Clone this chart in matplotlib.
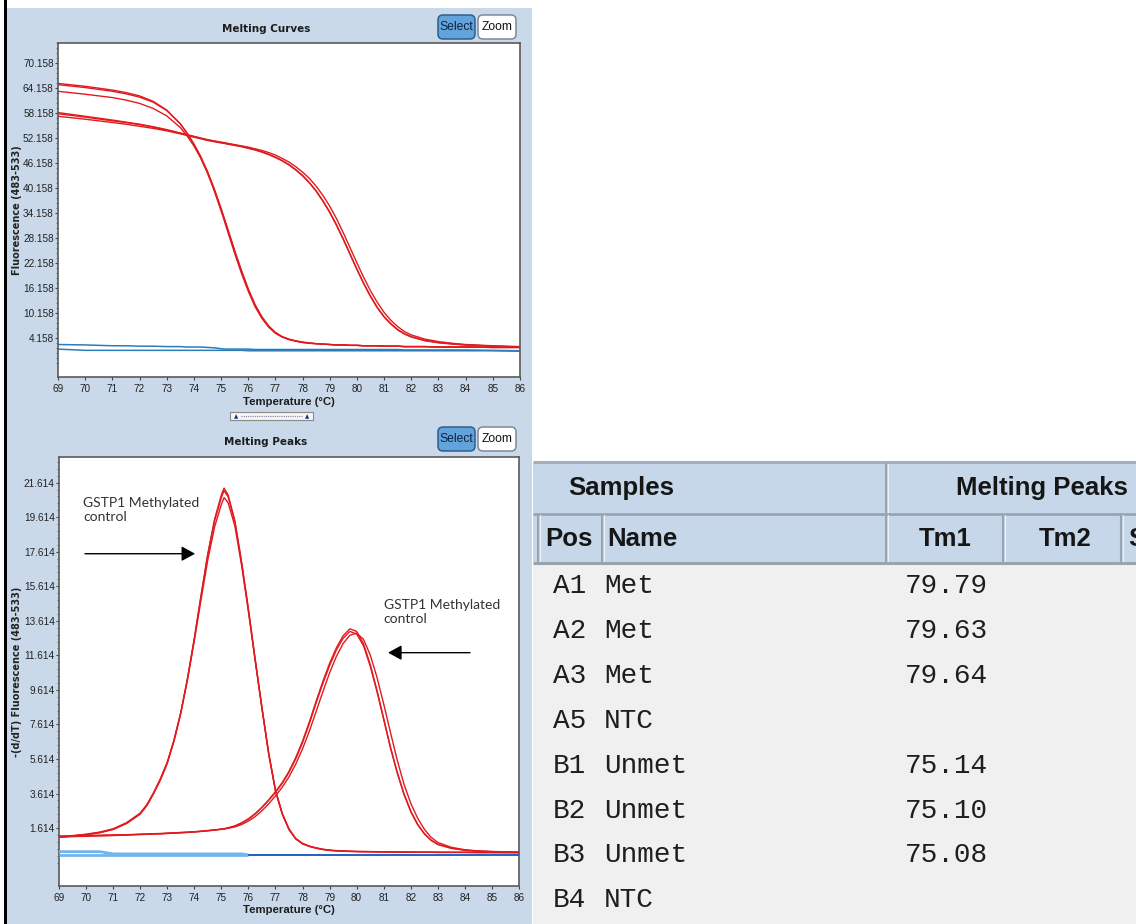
import matplotlib
matplotlib.use('Agg')
import matplotlib.pyplot as plt
from matplotlib.patches import Rectangle, FancyBboxPatch
from matplotlib.ticker import FixedLocator
from matplotlib import font_manager

# ---------------- data ----------------
# Melting curves: temperature grid and fluorescence (483-533)
curve_temps = [69, 70, 71, 71.5, 72, 72.5, 73, 73.5, 73.75, 74, 74.25, 74.5, 74.75, 75, 75.1,
               75.25, 75.5, 75.75, 76, 76.25, 76.5, 76.75, 77, 77.25, 77.5, 77.75, 78, 78.25,
               78.5, 78.75, 79, 79.25, 79.5, 79.75, 80, 80.25, 80.5, 80.75, 81, 81.25, 81.5,
               81.75, 82, 82.5, 83, 83.5, 84, 85, 86]

melt_A1 = [58.3, 57.4, 56.5, 56.0, 55.5, 54.9, 54.2, 53.4, 53.0, 52.6, 52.2, 51.8, 51.5, 51.2,
           51.1, 50.9, 50.6, 50.3, 50.0, 49.6, 49.2, 48.7, 48.1, 47.3, 46.4, 45.3, 44.0, 42.5,
           40.6, 38.4, 35.8, 32.8, 29.4, 25.8, 22.2, 18.7, 15.5, 12.7, 10.3, 8.4, 6.9, 5.7,
           4.9, 3.9, 3.3, 2.9, 2.6, 2.3, 2.1]
melt_A2 = [58.0, 57.2, 56.3, 55.9, 55.4, 54.8, 54.1, 53.3, 52.9, 52.5, 52.1, 51.7, 51.4, 51.1,
           51.0, 50.8, 50.5, 50.2, 49.8, 49.4, 48.9, 48.3, 47.6, 46.8, 45.8, 44.6, 43.2, 41.5,
           39.5, 37.1, 34.4, 31.3, 27.9, 24.3, 20.7, 17.3, 14.2, 11.5, 9.3, 7.6, 6.2, 5.2,
           4.5, 3.6, 3.1, 2.8, 2.5, 2.2, 2.0]
melt_A3 = [57.4, 56.7, 55.9, 55.5, 55.0, 54.5, 53.9, 53.2, 52.8, 52.4, 52.0, 51.6, 51.3, 51.0,
           50.9, 50.7, 50.4, 50.1, 49.7, 49.3, 48.8, 48.2, 47.5, 46.7, 45.7, 44.5, 43.1, 41.4,
           39.4, 37.0, 34.3, 31.2, 27.8, 24.2, 20.6, 17.2, 14.1, 11.4, 9.2, 7.5, 6.1, 5.1,
           4.4, 3.5, 3.0, 2.7, 2.5, 2.2, 2.0]
melt_B1 = [65.3, 64.6, 63.7, 63.1, 62.3, 61.0, 58.9, 55.6, 53.3, 50.6, 47.5, 43.8, 39.5, 34.7,
           32.7, 29.6, 24.5, 19.7, 15.4, 11.7, 8.9, 6.8, 5.3, 4.4, 3.8, 3.4, 3.1, 2.9,
           2.8, 2.7, 2.6, 2.5, 2.5, 2.4, 2.4, 2.3, 2.3, 2.3, 2.2, 2.2, 2.2, 2.1,
           2.1, 2.1, 2.0, 2.0, 2.0, 1.9, 1.9]
melt_B2 = [65.0, 64.3, 63.4, 62.8, 62.0, 60.8, 58.8, 55.6, 53.4, 50.8, 47.8, 44.2, 40.0, 35.3,
           33.3, 30.3, 25.2, 20.4, 16.0, 12.2, 9.3, 7.1, 5.5, 4.5, 3.9, 3.5, 3.2, 3.0,
           2.8, 2.7, 2.6, 2.5, 2.5, 2.4, 2.4, 2.3, 2.3, 2.3, 2.2, 2.2, 2.2, 2.1,
           2.1, 2.1, 2.0, 2.0, 2.0, 1.9, 1.9]
melt_B3 = [63.4, 62.7, 61.9, 61.3, 60.5, 59.3, 57.5, 54.7, 52.7, 50.3, 47.4, 43.9, 39.8, 35.1,
           33.1, 30.1, 25.0, 20.2, 15.8, 12.0, 9.1, 6.9, 5.4, 4.4, 3.8, 3.4, 3.1, 2.9,
           2.8, 2.7, 2.6, 2.5, 2.5, 2.4, 2.4, 2.3, 2.3, 2.3, 2.2, 2.2, 2.2, 2.1,
           2.1, 2.1, 2.0, 2.0, 2.0, 1.9, 1.9]
melt_A5 = [2.6, 2.5, 2.3, 2.3, 2.2, 2.2, 2.1, 2.1, 2.0, 2.0, 2.0, 1.9, 1.8, 1.6,
           1.5, 1.5, 1.5, 1.5, 1.5, 1.4, 1.4, 1.4, 1.4, 1.4, 1.4, 1.4, 1.4, 1.4,
           1.4, 1.4, 1.4, 1.4, 1.4, 1.4, 1.4, 1.4, 1.4, 1.4, 1.4, 1.4, 1.4, 1.3,
           1.3, 1.3, 1.3, 1.3, 1.3, 1.2, 1.1]
melt_B4 = [1.5, 1.2, 1.2, 1.2, 1.2, 1.2, 1.2, 1.2, 1.2, 1.2, 1.2, 1.2, 1.2, 1.2,
           1.2, 1.2, 1.2, 1.2, 1.1, 1.1, 1.1, 1.1, 1.1, 1.1, 1.1, 1.1, 1.1, 1.1,
           1.1, 1.1, 1.1, 1.1, 1.1, 1.1, 1.1, 1.1, 1.1, 1.1, 1.1, 1.1, 1.1, 1.1,
           1.1, 1.1, 1.1, 1.1, 1.1, 1.1, 1.0]

# Melting peaks: temperature grid and -(d/dT) fluorescence (483-533)
peak_temps = [69, 69.5, 70, 70.5, 71, 71.5, 72, 72.25, 72.5, 72.75, 73, 73.25, 73.5, 73.75,
              74, 74.25, 74.5, 74.75, 75, 75.1, 75.25, 75.5, 75.75, 76, 76.25, 76.5, 76.75,
              77, 77.25, 77.5, 77.75, 78, 78.25, 78.5, 78.75, 79, 79.25, 79.5, 79.75, 80,
              80.25, 80.5, 80.75, 81, 81.25, 81.5, 81.75, 82, 82.25, 82.5, 82.75, 83, 83.5,
              84, 84.5, 85, 85.5, 86]

peak_A1 = [1.15, 1.16, 1.18, 1.20, 1.22, 1.23, 1.26, 1.27, 1.29, 1.30,
           1.32, 1.34, 1.36, 1.38, 1.40, 1.43, 1.46, 1.50, 1.54, 1.56,
           1.60, 1.68, 1.82, 2.02, 2.28, 2.62, 3.02, 3.48, 3.98, 4.58,
           5.32, 6.20, 7.22, 8.35, 9.50, 10.60, 11.55, 12.30, 12.78, 12.90,
           12.55, 11.65, 10.35, 8.80, 7.15, 5.55, 4.15, 3.05, 2.20, 1.55,
           1.08, 0.78, 0.50, 0.36, 0.29, 0.26, 0.24, 0.22]
peak_A2 = [1.12, 1.14, 1.16, 1.18, 1.20, 1.22, 1.25, 1.26, 1.28, 1.29,
           1.31, 1.33, 1.35, 1.37, 1.40, 1.43, 1.47, 1.51, 1.56, 1.58,
           1.63, 1.74, 1.92, 2.15, 2.45, 2.82, 3.25, 3.72, 4.25, 4.90,
           5.70, 6.65, 7.75, 8.95, 10.10, 11.15, 12.05, 12.75, 13.15, 13.00,
           12.30, 11.10, 9.60, 7.95, 6.30, 4.85, 3.60, 2.60, 1.85, 1.30,
           0.92, 0.68, 0.45, 0.34, 0.28, 0.25, 0.23, 0.21]
peak_A3 = [1.10, 1.12, 1.14, 1.16, 1.18, 1.21, 1.24, 1.25, 1.27, 1.28,
           1.30, 1.32, 1.34, 1.36, 1.39, 1.42, 1.46, 1.50, 1.55, 1.57,
           1.62, 1.73, 1.90, 2.13, 2.43, 2.80, 3.22, 3.68, 4.20, 4.84,
           5.62, 6.56, 7.65, 8.85, 9.98, 11.02, 11.92, 12.60, 13.00, 12.85,
           12.18, 11.00, 9.52, 7.90, 6.25, 4.80, 3.56, 2.56, 1.82, 1.28,
           0.90, 0.66, 0.44, 0.33, 0.27, 0.24, 0.22, 0.20]
peak_B1 = [1.10, 1.16, 1.24, 1.36, 1.55, 1.90, 2.45, 2.95, 3.65, 4.45,
           5.40, 6.70, 8.30, 10.30, 12.60, 15.10, 17.50, 19.50, 20.90, 21.30,
           20.90, 19.40, 17.00, 14.30, 11.40, 8.60, 5.95, 3.80, 2.45, 1.55,
           1.00, 0.72, 0.56, 0.46, 0.38, 0.33, 0.30, 0.28, 0.27, 0.26,
           0.25, 0.25, 0.24, 0.24, 0.23, 0.23, 0.23, 0.22, 0.22, 0.22,
           0.22, 0.21, 0.21, 0.21, 0.20, 0.20, 0.20, 0.20]
peak_B2 = [1.08, 1.14, 1.22, 1.34, 1.53, 1.88, 2.42, 2.92, 3.62, 4.40,
           5.35, 6.65, 8.25, 10.25, 12.55, 15.05, 17.45, 19.40, 20.75, 21.15,
           20.80, 19.35, 16.95, 14.25, 11.35, 8.55, 5.90, 3.76, 2.42, 1.52,
           0.98, 0.70, 0.55, 0.45, 0.37, 0.32, 0.29, 0.27, 0.26, 0.25,
           0.24, 0.24, 0.23, 0.23, 0.22, 0.22, 0.22, 0.21, 0.21, 0.21,
           0.21, 0.20, 0.20, 0.20, 0.19, 0.19, 0.19, 0.19]
peak_B3 = [1.12, 1.18, 1.26, 1.38, 1.57, 1.93, 2.48, 2.98, 3.68, 4.48,
           5.42, 6.70, 8.28, 10.22, 12.45, 14.85, 17.15, 19.05, 20.35, 20.75,
           20.45, 19.10, 16.80, 14.15, 11.30, 8.55, 5.92, 3.80, 2.46, 1.56,
           1.01, 0.73, 0.57, 0.47, 0.39, 0.34, 0.31, 0.29, 0.27, 0.26,
           0.26, 0.25, 0.25, 0.24, 0.24, 0.23, 0.23, 0.23, 0.22, 0.22,
           0.22, 0.22, 0.21, 0.21, 0.21, 0.21, 0.20, 0.20]
peak_A5 = [0.25, 0.25, 0.25, 0.25, 0.12, 0.12, 0.12, 0.12, 0.12, 0.12,
           0.12, 0.12, 0.12, 0.12, 0.12, 0.12, 0.12, 0.12, 0.12, 0.12,
           0.12, 0.12, 0.12, 0.06, 0.06, 0.06, 0.06, 0.06, 0.06, 0.06,
           0.06, 0.06, 0.06, 0.06, 0.06, 0.06, 0.06, 0.06, 0.06, 0.06,
           0.06, 0.06, 0.06, 0.06, 0.06, 0.06, 0.06, 0.06, 0.06, 0.06,
           0.06, 0.06, 0.06, 0.06, 0.06, 0.06, 0.06, 0.06]
peak_B4 = [0.05, 0.05, 0.05, 0.05, 0.05, 0.05, 0.05, 0.05, 0.05, 0.05,
           0.05, 0.05, 0.05, 0.05, 0.05, 0.05, 0.05, 0.05, 0.05, 0.05,
           0.05, 0.05, 0.05, 0.05, 0.05, 0.05, 0.05, 0.05, 0.05, 0.05,
           0.05, 0.05, 0.05, 0.05, 0.05, 0.05, 0.05, 0.05, 0.05, 0.05,
           0.05, 0.05, 0.05, 0.05, 0.05, 0.05, 0.05, 0.05, 0.05, 0.05,
           0.05, 0.05, 0.05, 0.05, 0.05, 0.05, 0.05, 0.05]
ntc_color_switch_temp = 76   # NTC traces drawn light blue up to 76 °C, dark blue after

x_ticks = [69, 70, 71, 72, 73, 74, 75, 76, 77, 78, 79, 80, 81, 82, 83, 84, 85, 86]
curve_yticks = [4.158, 10.158, 16.158, 22.158, 28.158, 34.158, 40.158, 46.158,
                52.158, 58.158, 64.158, 70.158]
peak_yticks = [1.614, 3.614, 5.614, 7.614, 9.614, 11.614, 13.614, 15.614,
               17.614, 19.614, 21.614]

table_pos = ['A1', 'A2', 'A3', 'A5', 'B1', 'B2', 'B3', 'B4']
table_name = ['Met', 'Met', 'Met', 'NTC', 'Unmet', 'Unmet', 'Unmet', 'NTC']
table_tm1 = ['79.79', '79.63', '79.64', '', '75.14', '75.10', '75.08', '']
annot_text = 'GSTP1 Methylated\ncontrol'

# ---------------- figure ----------------
W, H = 1136, 924
fig = plt.figure(figsize=(W / 100, H / 100), dpi=100)
fig.patch.set_facecolor('white')

avail = {f.name for f in font_manager.fontManager.ttflist}
if 'Liberation Sans Narrow' in avail:
    NARROW, k = 'Liberation Sans Narrow', 1.0
else:
    NARROW, k = 'Liberation Sans', 0.86
NF = [NARROW, 'DejaVu Sans']
plt.rcParams['font.family'] = NF
TICK_SIZE = 8.8 if k == 1.0 else 7.2

bg = fig.add_axes([0, 0, 1, 1], zorder=0)
bg.set_xlim(0, W)
bg.set_ylim(H, 0)
bg.axis('off')

PANEL = '#c9d9ea'
bg.add_patch(Rectangle((7, 8), 525, H - 8, fc=PANEL, ec='none'))
bg.add_patch(Rectangle((3.5, 0), 3, H, fc='black', ec='none'))


def button(x0, y0, w, h, label, fc, ec, tc):
    bg.add_patch(FancyBboxPatch((x0, y0), w, h, boxstyle='round,pad=0,rounding_size=5',
                                fc=fc, ec=ec, lw=1.1))
    bg.text(x0 + w / 2, y0 + h / 2 + 0.5, label, ha='center', va='center',
            fontsize=10.2 * k, color=tc, family=NF)


for yb in (15, 427):
    button(438, yb, 37, 24, 'Select', '#62a3dc', '#2d5f8c', '#0d2340')
    button(478, yb, 38, 24, 'Zoom', 'white', '#7d8a97', '#111111')

bg.text(266, 28.5, 'Melting Curves', ha='center', va='center', fontsize=7.5,
        weight='bold', family='DejaVu Sans', color='#1c1c1c')
bg.text(266, 442, 'Melting Peaks', ha='center', va='center', fontsize=7.5,
        weight='bold', family='DejaVu Sans', color='#1c1c1c')

# slider widget under top chart
bg.add_patch(Rectangle((230, 412), 83, 8, fc='#f5f5f5', ec='#8a8a8a', lw=0.8))
bg.plot([241, 302], [416, 416], color='#8080a8', lw=0.8, ls=(0, (1, 1)))
for xs in (236, 307):
    bg.text(xs, 416.5, '\u25b2', fontsize=4, color='#1b2a8a', ha='center', va='center',
            family='DejaVu Sans')

# axis labels
bg.text(17, 210, 'Fluorescence (483-533)', rotation=90, ha='center', va='center',
        fontsize=7, weight='bold', family='DejaVu Sans', color='#222222')
bg.text(17, 672, '-(d/dT) Fluorescence (483-533)', rotation=90, ha='center', va='center',
        fontsize=7, weight='bold', family='DejaVu Sans', color='#222222')
bg.text(289, 402, 'Temperature (\u00b0C)', ha='center', va='center', fontsize=9.5 * k,
        weight='bold', family=NF, color='#1c1c1c')
bg.text(289, 910, 'Temperature (\u00b0C)', ha='center', va='center', fontsize=9.5 * k,
        weight='bold', family=NF, color='#1c1c1c')

# ---- table ----
HDR = '#c6d7e9'
bg.add_patch(Rectangle((533, 463), W - 533, H - 463, fc='#f0f0f0', ec='none'))
bg.add_patch(Rectangle((533, 463), W - 533, 50, fc=HDR, ec='none'))
bg.add_patch(Rectangle((533, 514), W - 533, 48, fc=HDR, ec='none'))
bg.plot([533, W], [462, 462], color='#a4afba', lw=2.2, solid_capstyle='butt')
bg.plot([533, W], [513.5, 513.5], color='#98a4b0', lw=2.0, solid_capstyle='butt')
bg.plot([533, W], [563, 563], color='#98a4b0', lw=2.2, solid_capstyle='butt')
bg.plot([886, 886], [464, 512], color='#98a4b0', lw=1.5)
bg.plot([887.5, 887.5], [464, 512], color='#eef3f8', lw=0.7)
for xv in (538, 602, 886, 1003, 1121):
    bg.plot([xv, xv], [515, 561], color='#98a4b0', lw=1.5)
    bg.plot([xv + 1.5, xv + 1.5], [515, 561], color='#eef3f8', lw=0.7)

hk = dict(family=NF, weight='bold', fontsize=(22 * k if k == 1.0 else 18.5), color='#161616',
          va='center')
bg.text(621, 488, 'Samples', ha='center', **hk)
bg.text(1042, 488, 'Melting Peaks', ha='center', **hk)
bg.text(569, 539, 'Pos', ha='center', **hk)
bg.text(607, 539, 'Name', ha='left', **hk)
bg.text(945, 539, 'Tm1', ha='center', **hk)
bg.text(1065, 539, 'Tm2', ha='center', **hk)
bg.text(1128, 539, 'S', ha='left', clip_on=True, **hk)

mk = dict(family=['Liberation Mono', 'DejaVu Sans Mono'], fontsize=20, color='#1e1e1e',
          va='center', ha='left')
for i, (p, n, t) in enumerate(zip(table_pos, table_name, table_tm1)):
    yy = 586 + i * 44.9
    bg.text(553, yy, p, **mk)
    bg.text(604, yy, n, **mk)
    if t:
        bg.text(905, yy, t, **mk)

# ---- charts ----
RED = '#e01b1f'
ax1 = fig.add_axes([58 / W, 1 - 377 / H, 462 / W, 334 / H], zorder=2)
ax2 = fig.add_axes([59 / W, 1 - 886 / H, 460 / W, 429 / H], zorder=2)


def style(ax, yticks, ylim):
    ax.set_facecolor('white')
    ax.set_xlim(69, 86)
    ax.set_ylim(*ylim)
    ax.set_xticks(x_ticks)
    ax.set_xticklabels([str(v) for v in x_ticks])
    ax.set_yticks(yticks)
    ax.set_yticklabels([f'{v:.3f}' for v in yticks])
    step = yticks[1] - yticks[0]
    minors = [yticks[0] + step * j / 5 for j in range(-5, 5 * len(yticks) + 5)]
    ax.yaxis.set_minor_locator(FixedLocator([m for m in minors if ylim[0] < m < ylim[1]]))
    ax.tick_params(axis='both', which='major', direction='out', length=2.5, width=0.8,
                   color='#444444', labelsize=TICK_SIZE, labelcolor='#222222')
    ax.tick_params(axis='x', pad=2.4)
    ax.tick_params(axis='y', pad=0.6)
    ax.tick_params(axis='y', which='minor', direction='out', length=1.2, width=0.6,
                   color='#666666')
    for s in ax.spines.values():
        s.set_color('#5a5a5a')
        s.set_linewidth(1.2)


style(ax1, curve_yticks, (-5.2, 75.0))
style(ax2, peak_yticks, (-1.74, 23.1))

for s in (melt_A5, melt_B4):
    ax1.plot(curve_temps, s, color='#2b7cb9', lw=1.1)
for s in (melt_A1, melt_A2, melt_A3, melt_B1, melt_B2, melt_B3):
    ax1.plot(curve_temps, s, color=RED, lw=1.0)

cut = peak_temps.index(ntc_color_switch_temp) + 1
for s in (peak_B4, peak_A5):
    ax2.plot(peak_temps[:cut], s[:cut], color='#72b5ea', lw=2.0, zorder=3,
             solid_capstyle='butt')
    ax2.plot(peak_temps[cut - 1:], s[cut - 1:], color='#2363c4', lw=1.3, zorder=3,
             solid_capstyle='butt')
for s in (peak_A1, peak_A2, peak_A3, peak_B1, peak_B2, peak_B3):
    ax2.plot(peak_temps, s, color=RED, lw=1.0, zorder=4)

ak = dict(family=['Lato', 'DejaVu Sans'], fontsize=10, color='#333333', va='center',
          ha='left', linespacing=1.2)
ax2.text(69.89, 20.02, annot_text, **ak)
ax2.text(81.0, 14.1, annot_text, **ak)
arw = dict(arrowstyle='-|>,head_length=0.55,head_width=0.3', color='black', lw=1.0,
           mutation_scale=15, shrinkA=0, shrinkB=0)
ax2.annotate('', xy=(74.03, 17.5), xytext=(69.96, 17.5), arrowprops=arw)
ax2.annotate('', xy=(81.16, 11.77), xytext=(84.19, 11.77), arrowprops=arw)

fig.savefig('out.png', dpi=100, facecolor='white')
